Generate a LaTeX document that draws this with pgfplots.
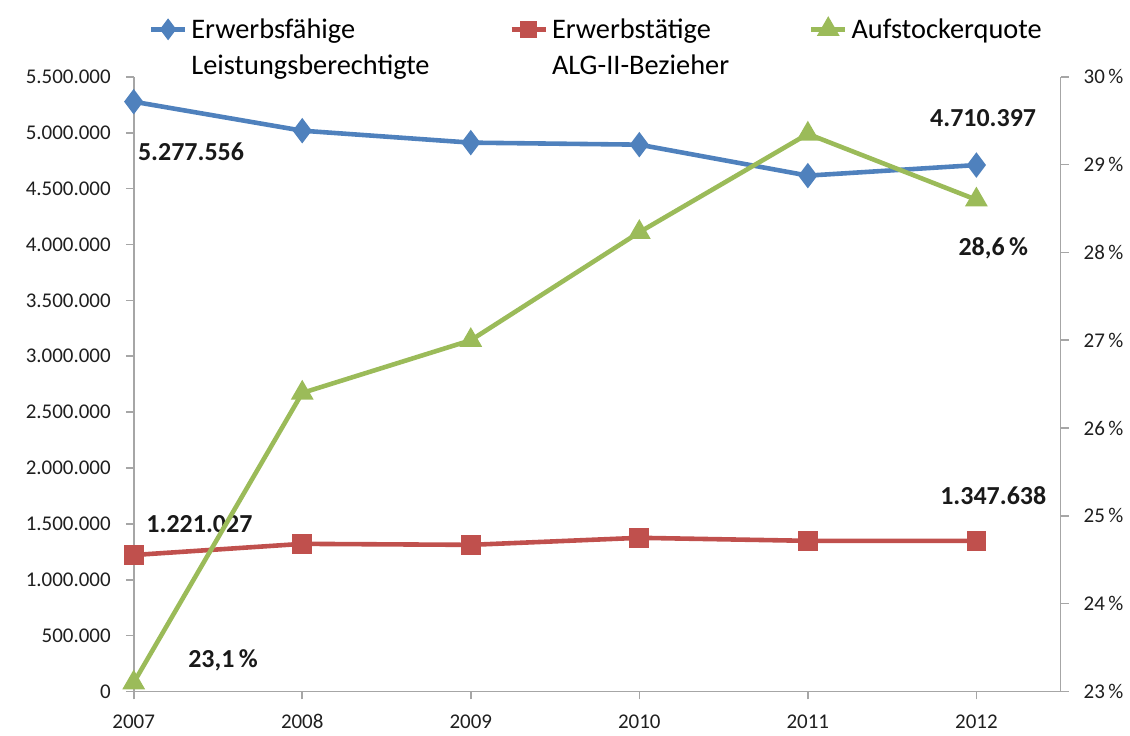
\documentclass[border=0pt]{standalone}
\usepackage{pgfplots}
\pgfplotsset{compat=1.18}
\usepackage{fontspec}
\setmainfont{Carlito}
\definecolor{cblue}{HTML}{4F81BD}
\definecolor{cred}{HTML}{C0504D}
\definecolor{cgreen}{HTML}{9BBB59}
\definecolor{axgray}{HTML}{A6A6A6}
\pgfplotsset{base/.style={scale only axis,width=464.5pt,height=308pt,
  xmin=2007,xmax=2012.5,axis line style={axgray,line width=0.8pt},
  tick style={axgray,line width=0.8pt},tick align=outside,major tick length=4pt,
  tick label style={font=\fontsize{10.5}{12}\selectfont,text=black!88},
  /pgf/number format/assume math mode=true}}
\newcommand{\twol}[2]{\raisebox{-0.32em}{\begin{tabular}[t]{@{}l@{}}#1\\[1pt]#2\end{tabular}}}
\begin{document}
\begin{tikzpicture}
\begin{axis}[base,axis x line*=bottom,axis y line*=left,
  ymin=0,ymax=5500000,ytick={0,500000,...,5500000},scaled y ticks=false,
  yticklabel style={/pgf/number format/fixed,/pgf/number format/1000 sep={.},xshift=-4pt},
  xtick={2007,2008,2009,2010,2011,2012},
  xticklabel style={/pgf/number format/1000 sep={},yshift=-4pt},clip=false]
\path ([shift={(-67pt,-22pt)}]rel axis cs:0,0) rectangle ([shift={(33.5pt,38.5pt)}]rel axis cs:1,1);
\addplot[cblue,line width=2.3pt,mark=diamond*,mark size=4.5pt] coordinates {
(2007,5277556) (2008,5018000) (2009,4911000) (2010,4893000) (2011,4616000) (2012,4710397)};
\addplot[cred,line width=2.3pt,mark=square*,mark size=3.8pt] coordinates {
(2007,1221027) (2008,1321000) (2009,1312000) (2010,1375000) (2011,1348000) (2012,1347638)};
\tikzset{dl/.style={font=\bfseries\fontsize{13}{15}\selectfont,text=black!90}}
\node[dl] at (axis cs:2007.34,4830000) {5.277.556};
\node[dl] at (axis cs:2012.04,5130000) {4.710.397};
\node[dl] at (axis cs:2007.39,1500000) {1.221.027};
\node[dl] at (axis cs:2012.10,1750000) {1.347.638};
\node[dl] at (axis cs:2007.53,277000) {23,1\,\%};
\node[dl] at (axis cs:2012.10,3970000) {28,6\,\%};
\end{axis}
\begin{axis}[base,axis x line=none,axis y line*=right,
  ymin=23,ymax=30,ytick={23,24,25,26,27,28,29,30},
  yticklabels={23\,\%,24\,\%,25\,\%,26\,\%,27\,\%,28\,\%,29\,\%,30\,\%},
  yticklabel style={xshift=4pt},
  legend style={at={(0.5,1)},anchor=south,yshift=18pt,legend columns=3,draw=none,fill=none,
    font=\fontsize{14.2}{17}\selectfont,cells={anchor=base west},
    /tikz/every even column/.append style={column sep=38pt}}]
\addlegendimage{cblue,line width=2.3pt,mark=diamond*,mark size=3.6pt}
\addlegendentry{\twol{Erwerbsfähige}{Leistungsberechtigte}}
\addlegendimage{cred,line width=2.3pt,mark=square*,mark size=3.2pt}
\addlegendentry{\twol{Erwerbstätige}{ALG-II-Bezieher}}
\addplot[cgreen,line width=2.3pt,mark=triangle*,mark size=4.3pt] coordinates {
(2007,23.1) (2008,26.4) (2009,27.0) (2010,28.23) (2011,29.35) (2012,28.6)};
\addlegendentry{\twol{Aufstockerquote}{\strut}}
\end{axis}
\end{tikzpicture}
\end{document}
